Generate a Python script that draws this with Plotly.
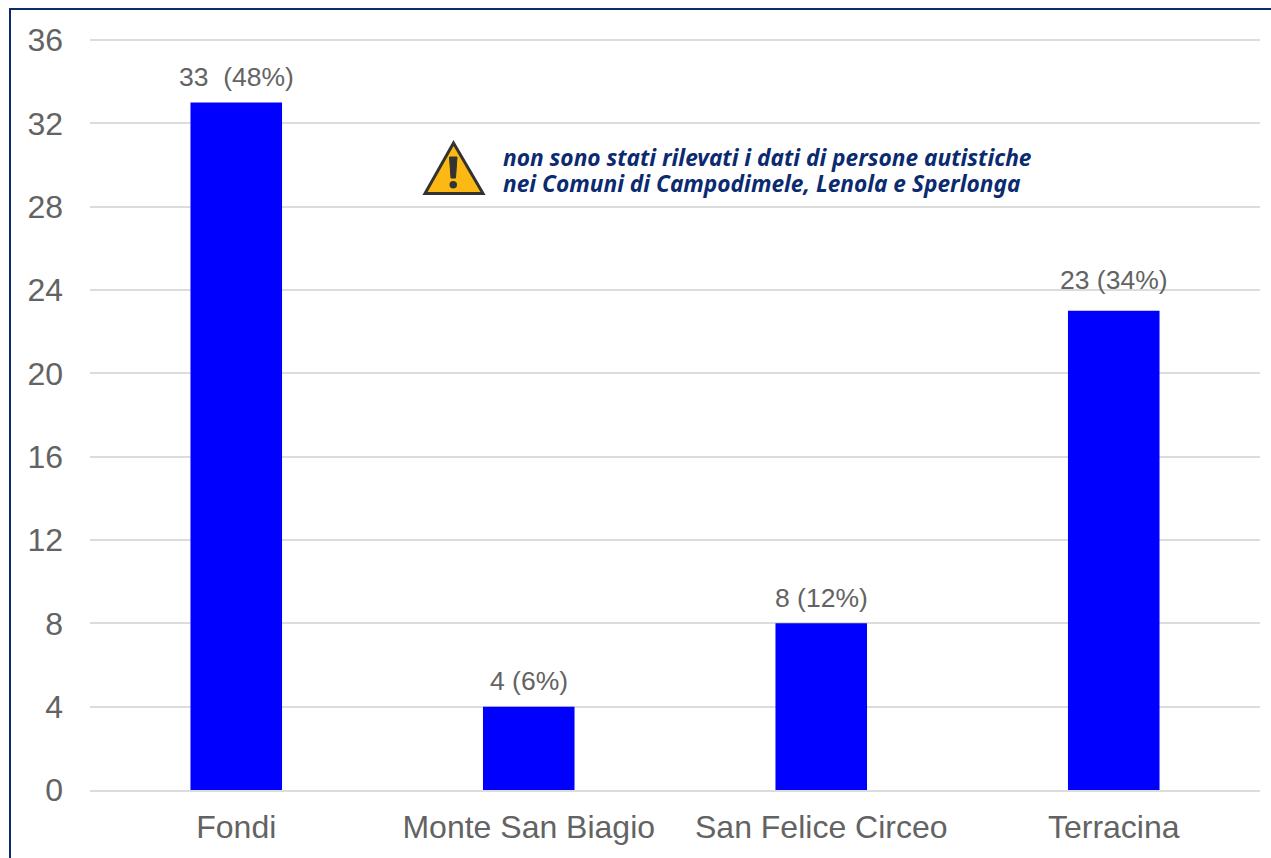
import plotly.graph_objects as go

categories = ["Fondi", "Monte San Biagio", "San Felice Circeo", "Terracina"]
values = [33, 4, 8, 23]
labels = ["33\u00a0\u00a0(48%)", "4 (6%)", "8 (12%)", "23 (34%)"]
y_ticks = [0, 4, 8, 12, 16, 20, 24, 28, 32, 36]
note_lines = ["non sono stati rilevati i dati di persone autistiche",
              "nei Comuni di Campodimele, Lenola e Sperlonga"]

W, H = 1271, 858
L, R, T, B = 90, 11, 38, 68
PW, PH = W - L - R, H - T - B
px = lambda x: (x - L) / PW
py = lambda y: 1 - (y - T) / PH
label_shift = [9, 9, 8, 14]
TEXT = "#636363"
GRID = "#dcdcdc"
NAVY = "#0b2a6f"

fig = go.Figure(go.Bar(x=categories, y=values, width=0.313, marker=dict(color="#0000ff", line_width=0),
                       hoverinfo="x+y"))

shapes = [
    dict(type="line", xref="paper", yref="paper", x0=px(9), x1=px(W), y0=py(9), y1=py(9),
         line=dict(color=NAVY, width=2)),
    dict(type="line", xref="paper", yref="paper", x0=px(10), x1=px(10), y0=py(9), y1=py(H),
         line=dict(color=NAVY, width=2)),
    # warning icon
    dict(type="path", xref="paper", yref="paper",
         path=f"M {px(453.5)} {py(143)} L {px(483)} {py(193.5)} L {px(425)} {py(193.5)} Z",
         fillcolor="#fdb913", line=dict(color="#333333", width=3)),
    dict(type="path", xref="paper", yref="paper",
         path=f"M {px(449.5)} {py(157)} L {px(457)} {py(157)} L {px(455.5)} {py(178)} L {px(451)} {py(178)} Z",
         fillcolor="#333333", line=dict(color="#333333", width=1)),
    dict(type="circle", xref="paper", yref="paper", x0=px(449.5), x1=px(457), y0=py(181), y1=py(188.5),
         fillcolor="#333333", line=dict(color="#333333", width=0)),
]

annotations = [
    dict(x=c, y=v, text=t, xref="x", yref="y", showarrow=False, yanchor="bottom", yshift=s,
         font=dict(family="Liberation Sans", size=26.5, color=TEXT))
    for c, v, t, s in zip(categories, values, labels, label_shift)
]
for line, yc in zip(note_lines, [158, 183]):
    annotations.append(dict(
        x=px(501), y=py(yc), xref="paper", yref="paper", xanchor="left", yanchor="middle", showarrow=False,
        text=f"<b><i>{line}</i></b>",
        font=dict(family="Noto Sans", size=22.7, color=NAVY)))

fig.update_layout(
    width=W, height=H, margin=dict(l=L, r=R, t=T, b=B, pad=0, autoexpand=False),
    paper_bgcolor="white", plot_bgcolor="white", showlegend=False,
    font=dict(family="Liberation Sans", color=TEXT),
    shapes=shapes, annotations=annotations,
    xaxis=dict(type="category", range=[-0.5, 3.5], showline=True, linecolor=GRID, linewidth=2,
               ticks="", tickfont=dict(size=32, color=TEXT), showgrid=False, zeroline=False,
               ticklabelstandoff=8),
    yaxis=dict(range=[0, 36.096], tickvals=y_ticks, ticks="", showline=False, gridcolor=GRID, gridwidth=2,
               zeroline=False, tickfont=dict(size=32, color=TEXT), ticklabelstandoff=26),
)

fig.write_html("out.html", config={"displayModeBar": False},
               post_script="document.body.style.margin='0';document.body.style.overflow='hidden';")
